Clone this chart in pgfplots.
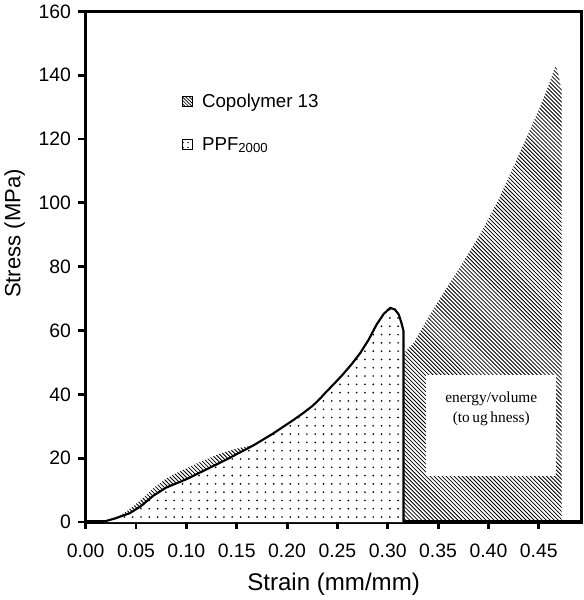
\documentclass[border=0pt]{standalone}
\usepackage{fontspec}
\setmainfont{Liberation Sans}
\newfontfamily\seriffont{Liberation Serif}
\usepackage{pgfplots}
\pgfplotsset{compat=1.18}
\usetikzlibrary{patterns}

\pgfdeclarepatternformonly{densehatch}{\pgfqpoint{-1pt}{-1pt}}{\pgfqpoint{4pt}{4pt}}{\pgfqpoint{3pt}{3pt}}%
{\pgfsetlinewidth{0.6pt}\pgfpathmoveto{\pgfqpoint{0pt}{3pt}}\pgfpathlineto{\pgfqpoint{3.1pt}{-0.1pt}}\pgfusepath{stroke}}
\pgfdeclarepatternformonly{smallhatch}{\pgfqpoint{-1pt}{-1pt}}{\pgfqpoint{3.5pt}{3.5pt}}{\pgfqpoint{2.5pt}{2.5pt}}%
{\pgfsetlinewidth{0.5pt}\pgfpathmoveto{\pgfqpoint{0pt}{2.5pt}}\pgfpathlineto{\pgfqpoint{2.6pt}{-0.1pt}}\pgfusepath{stroke}}
\pgfdeclarepatternformonly{sparsedots}{\pgfqpoint{-1pt}{-1pt}}{\pgfqpoint{1pt}{1pt}}{\pgfqpoint{6.2pt}{6.2pt}}%
{\pgfpathcircle{\pgfqpoint{0pt}{0pt}}{0.7pt}\pgfusepath{fill}}
\pgfdeclarepatternformonly{icondot}{\pgfqpoint{-1pt}{-1pt}}{\pgfqpoint{1pt}{1pt}}{\pgfqpoint{3.8pt}{3.8pt}}%
{\pgfpathcircle{\pgfqpoint{0pt}{0pt}}{0.6pt}\pgfusepath{fill}}

\pgfplotstableread{
x y
0 0
0.015 0
0.02 0.2
0.025 0.6
0.03 1.3
0.04 3.2
0.05 5.6
0.06 8.4
0.067 10.6
0.08 13.6
0.09 15.3
0.10 16.8
0.115 19.0
0.133 21.4
0.15 23.0
0.165 24.0
0.18 25.8
0.20 29.0
0.22 32.5
0.25 38.0
0.28 44.0
0.30 48.5
0.316 52.9
0.3257 56
0.34 64
0.3588 73.5
0.375 81.5
0.392 90.3
0.41 101
0.425 111.4
0.44 122
0.4517 130.4
0.46 137
0.4667 143
0.4690 141
0.4716 136.7
0.4726 136
0.4726 0
}\copolymer

\pgfplotstableread{
x y
0 0
0.015 0
0.02 0.3
0.03 1.2
0.044 2.8
0.055 5.0
0.067 8.2
0.08 10.8
0.10 13.4
0.12 16.5
0.14 19.6
0.1665 24.0
0.185 27.5
0.206 31.9
0.215 33.9
0.225 36.3
0.232 38.4
0.239 40.8
0.247 43.4
0.255 46.1
0.264 49.4
0.2726 52.9
0.281 57.1
0.289 61.9
0.296 65.2
0.3025 67.1
0.307 66.6
0.311 65.0
0.3135 62.5
0.3157 59.8
0.3157 0
}\ppf

\begin{document}
\begin{tikzpicture}
\begin{axis}[
  at={(0,0)}, anchor=south west,
  scale only axis,
  width=370.7pt, height=381.75pt,
  xmin=0, xmax=0.4925, ymin=0, ymax=160,
  axis line style={line width=2.4pt},
  xtick={0,0.05,...,0.45},
  ytick={0,20,...,160},
  xtick pos=bottom, ytick pos=left,
  xtick align=outside, ytick align=outside,
  major tick length=5.5pt,
  /pgf/number format/assume math mode=true,
  xticklabel style={/pgf/number format/fixed, /pgf/number format/fixed zerofill, /pgf/number format/precision=2, font=\fontsize{14.5}{16}\selectfont, yshift=-7pt},
  yticklabel style={font=\fontsize{14.5}{16}\selectfont, xshift=-2pt},
  xlabel={Strain (mm/mm)},
  ylabel={Stress (MPa)},
  xlabel style={at={(axis description cs:0.5,-0.122)}, anchor=center, font=\fontsize{18}{20}\selectfont},
  ylabel style={at={(axis description cs:-0.143,0.565)}, anchor=center, font=\fontsize{16.5}{18}\selectfont},
  legend style={at={(axis description cs:0.185,0.85)}, anchor=north west, draw=none, fill=none,
    font=\fontsize{14}{16}\selectfont, row sep=17pt,
    /tikz/every even column/.append style={column sep=0pt}},
  legend cell align=left,
  clip=false,
]
\addplot[draw=none, pattern=densehatch, forget plot] table {\copolymer} \closedcycle;
\node[fill=white, minimum width=97pt, minimum height=75pt, inner sep=0pt] at (axis cs:0.4028,30.2) {};
\node[align=center, inner sep=0pt, font=\seriffont\fontsize{11.5}{15}\selectfont] at (axis cs:0.4028,35.5) {energy/volume\\(to\,ug\,hness)};
\addplot[draw=none, fill=white, forget plot] table {\ppf} \closedcycle;
\addplot[draw=none, pattern=sparsedots, forget plot] table {\ppf} \closedcycle;
\addplot[black, line width=1.6pt, forget plot] table {\ppf};
\addlegendimage{legend image code/.code={\draw[black, line width=0.5pt, pattern=smallhatch] (0pt,-3.8pt) rectangle (7.6pt,3.8pt);}}
\addlegendentry{\hspace{5pt}Copolymer 13}
\addlegendimage{legend image code/.code={\draw[black, line width=0.6pt, pattern=icondot] (0pt,-3.8pt) rectangle (7.6pt,3.8pt);}}
\addlegendentry{\hspace{5pt}PPF\textsubscript{2000}}
\end{axis}
\foreach \i in {0,...,9} {
  \draw[black, line width=2.2pt] ({\i*0.05/0.4925*370.7pt},0pt) -- ({\i*0.05/0.4925*370.7pt},-5.5pt);
}
\foreach \i in {0,...,8} {
  \draw[black, line width=2.2pt] (0pt,{\i*20/160*381.75pt}) -- (-5.5pt,{\i*20/160*381.75pt});
}
\end{tikzpicture}
\end{document}
